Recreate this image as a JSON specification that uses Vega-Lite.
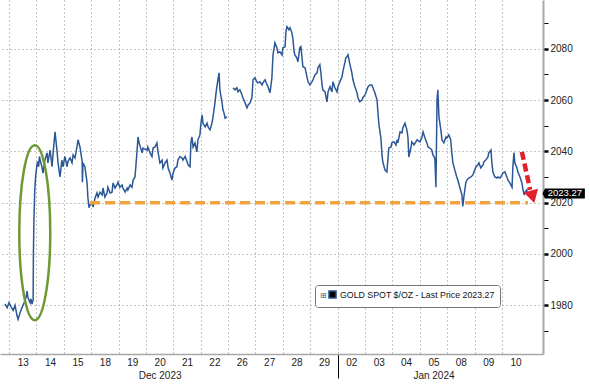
{
  "$schema": "https://vega.github.io/schema/vega-lite/v6.json",
  "width": 543,
  "height": 354,
  "autosize": {"type": "none"},
  "padding": {"left": 0, "top": 0, "right": 47, "bottom": 31},
  "background": "white",
  "config": {"view": {"stroke": null}, "font": "Liberation Sans"},
  "datasets": {
    "price": [
      {"t":-0.15,"v":1980.5,"s":1},{"t":-0.07,"v":1979,"s":1},{"t":0,"v":1981,"s":1},{"t":0.07,"v":1979.5,"s":1},{"t":0.15,"v":1978,"s":1},{"t":0.22,"v":1980,"s":1},{"t":0.29,"v":1976,"s":1},{"t":0.33,"v":1974.5,"s":1},{"t":0.40,"v":1977,"s":1},{"t":0.47,"v":1979,"s":1},{"t":0.55,"v":1981,"s":1},{"t":0.62,"v":1983,"s":1},{"t":0.66,"v":1985.5,"s":1},{"t":0.69,"v":1983,"s":1},{"t":0.77,"v":1981,"s":1},{"t":0.80,"v":1982.5,"s":1},{"t":0.84,"v":1980.5,"s":1},{"t":0.88,"v":1982,"s":1},{"t":0.89,"v":2000,"s":1},{"t":0.91,"v":2014,"s":1},{"t":0.94,"v":2025,"s":1},{"t":0.97,"v":2030,"s":1},{"t":1.00,"v":2033,"s":1},{"t":1.04,"v":2036,"s":1},{"t":1.08,"v":2034,"s":1},{"t":1.11,"v":2038,"s":1},{"t":1.15,"v":2036,"s":1},
      {"t":1.20,"v":2034,"s":1},{"t":1.24,"v":2031.5,"s":1},{"t":1.31,"v":2036.6,"s":1},{"t":1.39,"v":2039.4,"s":1},{"t":1.42,"v":2035.5,"s":1},{"t":1.50,"v":2040.5,"s":1},{"t":1.57,"v":2034,"s":1},{"t":1.61,"v":2039.4,"s":1},{"t":1.68,"v":2047.6,"s":1},{"t":1.75,"v":2040.5,"s":1},{"t":1.79,"v":2035.5,"s":1},{"t":1.86,"v":2030,"s":1},{"t":1.93,"v":2036.6,"s":1},{"t":1.97,"v":2034,"s":1},
      {"t":2.04,"v":2038,"s":1},{"t":2.12,"v":2034,"s":1},{"t":2.15,"v":2036,"s":1},{"t":2.23,"v":2037.4,"s":1},{"t":2.30,"v":2035.5,"s":1},{"t":2.34,"v":2038.6,"s":1},{"t":2.41,"v":2037.4,"s":1},{"t":2.48,"v":2041.7,"s":1},{"t":2.52,"v":2044.5,"s":1},{"t":2.59,"v":2041.7,"s":1},{"t":2.67,"v":2036,"s":1},{"t":2.68,"v":2028,"s":1},{"t":2.70,"v":2035.5,"s":1},{"t":2.77,"v":2034,"s":1},{"t":2.85,"v":2027.7,"s":1},{"t":2.88,"v":2022,"s":1},{"t":2.92,"v":2018,"s":1},{"t":2.99,"v":2020,"s":1},
      {"t":3.03,"v":2019.8,"s":1},{"t":3.07,"v":2018.3,"s":1},{"t":3.14,"v":2021.8,"s":1},{"t":3.21,"v":2023.8,"s":1},{"t":3.25,"v":2022.2,"s":1},{"t":3.32,"v":2024.1,"s":1},{"t":3.40,"v":2023,"s":1},{"t":3.43,"v":2025.7,"s":1},{"t":3.50,"v":2022.2,"s":1},{"t":3.58,"v":2023.8,"s":1},{"t":3.61,"v":2026,"s":1},{"t":3.69,"v":2023.8,"s":1},{"t":3.76,"v":2024.1,"s":1},{"t":3.80,"v":2027.7,"s":1},{"t":3.87,"v":2025.7,"s":1},{"t":3.94,"v":2026.9,"s":1},
      {"t":3.98,"v":2028,"s":1},{"t":4.05,"v":2026,"s":1},{"t":4.13,"v":2026.9,"s":1},{"t":4.16,"v":2025.7,"s":1},{"t":4.24,"v":2024.1,"s":1},{"t":4.31,"v":2025.7,"s":1},{"t":4.34,"v":2024.9,"s":1},{"t":4.42,"v":2026.9,"s":1},{"t":4.49,"v":2026,"s":1},{"t":4.53,"v":2028.8,"s":1},{"t":4.60,"v":2030,"s":1},{"t":4.67,"v":2039.4,"s":1},{"t":4.71,"v":2045.6,"s":1},{"t":4.75,"v":2043.3,"s":1},{"t":4.86,"v":2039.4,"s":1},{"t":4.89,"v":2041.3,"s":1},
      {"t":5.04,"v":2040.5,"s":1},{"t":5.07,"v":2041.7,"s":1},{"t":5.15,"v":2039.4,"s":1},{"t":5.22,"v":2038,"s":1},{"t":5.26,"v":2041.3,"s":1},{"t":5.33,"v":2041.7,"s":1},{"t":5.40,"v":2043.3,"s":1},{"t":5.44,"v":2039.8,"s":1},{"t":5.51,"v":2035.5,"s":1},{"t":5.59,"v":2036.6,"s":1},{"t":5.62,"v":2033.5,"s":1},{"t":5.70,"v":2035.5,"s":1},{"t":5.77,"v":2036.6,"s":1},{"t":5.81,"v":2033.5,"s":1},{"t":5.88,"v":2031.5,"s":1},{"t":5.95,"v":2028.8,"s":1},
      {"t":5.99,"v":2031.5,"s":1},{"t":6.06,"v":2033.5,"s":1},{"t":6.13,"v":2034,"s":1},{"t":6.17,"v":2036.6,"s":1},{"t":6.24,"v":2038,"s":1},{"t":6.32,"v":2037.4,"s":1},{"t":6.35,"v":2036.6,"s":1},{"t":6.43,"v":2038,"s":1},{"t":6.50,"v":2036,"s":1},{"t":6.54,"v":2034.7,"s":1},{"t":6.61,"v":2034,"s":1},{"t":6.64,"v":2043.3,"s":1},{"t":6.68,"v":2045.6,"s":1},{"t":6.72,"v":2041.7,"s":1},{"t":6.79,"v":2043.3,"s":1},{"t":6.86,"v":2039.8,"s":1},{"t":6.90,"v":2044.5,"s":1},{"t":6.97,"v":2046.4,"s":1},
      {"t":7.01,"v":2051,"s":1},{"t":7.05,"v":2054.2,"s":1},{"t":7.08,"v":2051,"s":1},{"t":7.16,"v":2049.5,"s":1},{"t":7.23,"v":2051,"s":1},{"t":7.27,"v":2049.5,"s":1},{"t":7.34,"v":2048.4,"s":1},{"t":7.41,"v":2051,"s":1},{"t":7.45,"v":2053.4,"s":1},{"t":7.52,"v":2058.9,"s":1},{"t":7.56,"v":2062.8,"s":1},{"t":7.59,"v":2065.2,"s":1},{"t":7.67,"v":2070.6,"s":1},{"t":7.70,"v":2064,"s":1},{"t":7.78,"v":2058.9,"s":1},{"t":7.81,"v":2056.2,"s":1},{"t":7.85,"v":2055,"s":1},{"t":7.89,"v":2053,"s":1},{"t":7.96,"v":2053.4,"s":1},
      {"t":8.18,"v":2064.8,"s":2},{"t":8.25,"v":2064,"s":2},{"t":8.32,"v":2064.8,"s":2},{"t":8.36,"v":2063.2,"s":2},{"t":8.43,"v":2064,"s":2},{"t":8.51,"v":2062,"s":2},{"t":8.54,"v":2060.9,"s":2},{"t":8.62,"v":2058.9,"s":2},{"t":8.69,"v":2057,"s":2},{"t":8.73,"v":2058,"s":2},{"t":8.80,"v":2058.9,"s":2},{"t":8.87,"v":2060.9,"s":2},{"t":8.91,"v":2067.9,"s":2},{"t":8.98,"v":2068.7,"s":2},
      {"t":9.05,"v":2067.1,"s":2},{"t":9.09,"v":2066.7,"s":2},{"t":9.16,"v":2067.1,"s":2},{"t":9.24,"v":2065.9,"s":2},{"t":9.27,"v":2066.7,"s":2},{"t":9.35,"v":2067.9,"s":2},{"t":9.42,"v":2066,"s":2},{"t":9.46,"v":2065.2,"s":2},{"t":9.53,"v":2062.8,"s":2},{"t":9.60,"v":2068.7,"s":2},{"t":9.64,"v":2077.6,"s":2},{"t":9.71,"v":2082.3,"s":2},{"t":9.78,"v":2080.4,"s":2},{"t":9.82,"v":2078.4,"s":2},{"t":9.89,"v":2078.8,"s":2},{"t":9.97,"v":2077.6,"s":2},
      {"t":10.00,"v":2080.4,"s":2},{"t":10.08,"v":2080.8,"s":2},{"t":10.11,"v":2086.6,"s":2},{"t":10.15,"v":2088.6,"s":2},{"t":10.22,"v":2087.4,"s":2},{"t":10.26,"v":2088.2,"s":2},{"t":10.33,"v":2086.3,"s":2},{"t":10.37,"v":2083.5,"s":2},{"t":10.41,"v":2078.8,"s":2},{"t":10.44,"v":2077.6,"s":2},{"t":10.51,"v":2076.5,"s":2},{"t":10.55,"v":2074.9,"s":2},{"t":10.62,"v":2080.4,"s":2},{"t":10.66,"v":2080.8,"s":2},{"t":10.70,"v":2076.5,"s":2},{"t":10.73,"v":2073,"s":2},{"t":10.81,"v":2072.6,"s":2},{"t":10.88,"v":2069,"s":2},{"t":10.92,"v":2067.1,"s":2},{"t":10.99,"v":2065.9,"s":2},
      {"t":11.06,"v":2067.1,"s":2},{"t":11.10,"v":2067.9,"s":2},{"t":11.17,"v":2069.8,"s":2},{"t":11.25,"v":2070.6,"s":2},{"t":11.28,"v":2072.6,"s":2},{"t":11.35,"v":2073.8,"s":2},{"t":11.39,"v":2070.6,"s":2},{"t":11.43,"v":2065.9,"s":2},{"t":11.46,"v":2064,"s":2},{"t":11.54,"v":2063.2,"s":2},{"t":11.61,"v":2059.3,"s":2},{"t":11.65,"v":2063.2,"s":2},{"t":11.72,"v":2065.2,"s":2},{"t":11.79,"v":2063.2,"s":2},{"t":11.83,"v":2067.1,"s":2},{"t":11.90,"v":2064.8,"s":2},{"t":11.98,"v":2063.2,"s":2},
      {"t":12.01,"v":2065.2,"s":2},{"t":12.08,"v":2067.1,"s":2},{"t":12.16,"v":2069,"s":2},{"t":12.19,"v":2071,"s":2},{"t":12.27,"v":2074.9,"s":2},{"t":12.30,"v":2076.5,"s":2},{"t":12.34,"v":2076.9,"s":2},{"t":12.38,"v":2077.6,"s":2},{"t":12.45,"v":2073.8,"s":2},{"t":12.52,"v":2070.6,"s":2},{"t":12.56,"v":2067.9,"s":2},{"t":12.63,"v":2065.2,"s":2},{"t":12.71,"v":2062.8,"s":2},{"t":12.74,"v":2060.9,"s":2},{"t":12.81,"v":2059.3,"s":2},{"t":12.89,"v":2060,"s":2},{"t":12.92,"v":2060.9,"s":2},
      {"t":13.00,"v":2062,"s":2},{"t":13.07,"v":2064,"s":2},{"t":13.11,"v":2065.2,"s":2},{"t":13.18,"v":2065.9,"s":2},{"t":13.25,"v":2065.9,"s":2},{"t":13.29,"v":2064.8,"s":2},{"t":13.36,"v":2062.8,"s":2},{"t":13.44,"v":2060,"s":2},{"t":13.47,"v":2055.4,"s":2},{"t":13.51,"v":2050.3,"s":2},{"t":13.58,"v":2045.2,"s":2},{"t":13.62,"v":2038.6,"s":2},{"t":13.65,"v":2035.9,"s":2},{"t":13.73,"v":2032.7,"s":2},{"t":13.80,"v":2032,"s":2},{"t":13.84,"v":2037.4,"s":2},{"t":13.87,"v":2041.3,"s":2},{"t":13.95,"v":2041.7,"s":2},{"t":13.98,"v":2043.3,"s":2},
      {"t":14.06,"v":2043.7,"s":2},{"t":14.13,"v":2042.5,"s":2},{"t":14.17,"v":2044.5,"s":2},{"t":14.20,"v":2043.3,"s":2},{"t":14.28,"v":2047.6,"s":2},{"t":14.35,"v":2047.2,"s":2},{"t":14.38,"v":2049.1,"s":2},{"t":14.46,"v":2051,"s":2},{"t":14.53,"v":2048.4,"s":2},{"t":14.57,"v":2045.2,"s":2},{"t":14.60,"v":2037.8,"s":2},{"t":14.68,"v":2041.7,"s":2},{"t":14.71,"v":2043.7,"s":2},{"t":14.79,"v":2042.5,"s":2},{"t":14.90,"v":2044.5,"s":2},{"t":15.01,"v":2043.7,"s":2},
      {"t":15.08,"v":2045.6,"s":2},{"t":15.12,"v":2047.6,"s":2},{"t":15.19,"v":2045.2,"s":2},{"t":15.26,"v":2043.3,"s":2},{"t":15.30,"v":2041.7,"s":2},{"t":15.37,"v":2041.3,"s":2},{"t":15.44,"v":2040.5,"s":2},{"t":15.48,"v":2038.6,"s":2},{"t":15.55,"v":2037.4,"s":2},{"t":15.59,"v":2026,"s":2},{"t":15.63,"v":2060,"s":2},{"t":15.66,"v":2064,"s":2},{"t":15.70,"v":2053.4,"s":2},{"t":15.77,"v":2048.4,"s":2},{"t":15.81,"v":2044.5,"s":2},{"t":15.88,"v":2043.3,"s":2},{"t":15.96,"v":2045.6,"s":2},{"t":15.99,"v":2045.2,"s":2},
      {"t":16.06,"v":2046.4,"s":2},{"t":16.13,"v":2044.5,"s":2},{"t":16.17,"v":2039.4,"s":2},{"t":16.21,"v":2035.5,"s":2},{"t":16.28,"v":2032.7,"s":2},{"t":16.35,"v":2030,"s":2},{"t":16.39,"v":2028.8,"s":2},{"t":16.46,"v":2026,"s":2},{"t":16.54,"v":2023,"s":2},{"t":16.57,"v":2018.5,"s":2},{"t":16.61,"v":2022.2,"s":2},{"t":16.68,"v":2027.7,"s":2},{"t":16.72,"v":2028.8,"s":2},{"t":16.79,"v":2029.6,"s":2},{"t":16.87,"v":2030,"s":2},{"t":16.94,"v":2030.8,"s":2},{"t":16.98,"v":2032,"s":2},
      {"t":17.05,"v":2033.9,"s":2},{"t":17.12,"v":2034.7,"s":2},{"t":17.16,"v":2035.5,"s":2},{"t":17.23,"v":2033.5,"s":2},{"t":17.31,"v":2034.7,"s":2},{"t":17.34,"v":2035.9,"s":2},{"t":17.41,"v":2036.6,"s":2},{"t":17.49,"v":2037.8,"s":2},{"t":17.52,"v":2039.4,"s":2},{"t":17.60,"v":2040.5,"s":2},{"t":17.63,"v":2035.9,"s":2},{"t":17.67,"v":2032,"s":2},{"t":17.74,"v":2030,"s":2},{"t":17.82,"v":2029.6,"s":2},{"t":17.85,"v":2030,"s":2},{"t":17.93,"v":2029.6,"s":2},{"t":18.00,"v":2030.8,"s":2},
      {"t":18.04,"v":2031.6,"s":2},{"t":18.11,"v":2032,"s":2},{"t":18.18,"v":2030,"s":2},{"t":18.22,"v":2028.8,"s":2},{"t":18.29,"v":2027.7,"s":2},{"t":18.37,"v":2026,"s":2},{"t":18.40,"v":2034,"s":2},{"t":18.44,"v":2039.5,"s":2},{"t":18.47,"v":2035.5,"s":2},{"t":18.55,"v":2033.5,"s":2},{"t":18.58,"v":2032,"s":2},{"t":18.66,"v":2030,"s":2},{"t":18.73,"v":2027.7,"s":2},{"t":18.77,"v":2025,"s":2},{"t":18.81,"v":2023,"s":2},{"t":18.84,"v":2024.1,"s":2},{"t":18.91,"v":2025,"s":2},{"t":18.93,"v":2023.27,"s":2}
    ],
    "level": [{"t": 2.96, "v": 2020}, {"t": 18.95, "v": 2020}],
    "arrow": [{"t": 18.73, "v": 2039.8, "t2": 19.03, "v2": 2025.0}],
    "head": [{"t": 19.12, "v": 2022.3}],
    "ellipse": [{"t": 0.94, "v": 2008.3}],
    "tag": [{"t": 20.3, "v": 2023.6, "label": "2023.27"}]
  },
  "layer": [
    {
      "data": {"name": "price"},
      "mark": {"type": "line", "strokeWidth": 1.5},
      "encoding": {
        "x": {
          "field": "t", "type": "quantitative",
          "scale": {"domain": [-0.33, 19.5], "nice": false, "zero": false},
          "axis": {
            "orient": "bottom", "title": null, "tickCount": 60,
            "values": [0,1,2,3,4,5,6,7,8,9,10,11,12,13,14,15,16,17,18],
            "grid": true, "gridDash": [1, 3], "gridColor": "#8a8a8a",
            "domainColor": "#a8a8a8", "domainWidth": 1.5,
            "ticks": true, "tickColor": "#000", "tickSize": 24,
            "tickOpacity": {"condition": {"test": "datum.value === 12", "value": 1}, "value": 0},
            "labelOffset": 13.7,
            "labelExpr": "[['13'],['14'],['15'],['18'],['19'],['20','Dec 2023'],['21'],['22'],['26'],['27'],['28'],['29'],['02'],['03'],['04'],['05','Jan 2024'],['08'],['09'],['10']][datum.value]",
            "labelFontSize": 10, "labelColor": "#222", "labelPadding": -21, "labelLineHeight": 13,
            "labelOverlap": false, "labelFlush": false, "labelBound": false
          }
        },
        "y": {
          "field": "v", "type": "quantitative",
          "scale": {"domain": [1961, 2099], "nice": false, "zero": false},
          "axis": {
            "orient": "right", "title": null, "format": "d", "tickCount": 60,
            "values": [1970,1980,1990,2000,2010,2020,2030,2040,2050,2060,2070,2080,2090],
            "grid": true, "gridDash": [1, 3], "gridColor": "#8a8a8a",
            "gridOpacity": {"condition": {"test": "datum.value % 20 === 0", "value": 1}, "value": 0},
            "domainColor": "#a8a8a8", "domainWidth": 2,
            "tickColor": "#000", "tickSize": 5,
            "tickWidth": {"condition": {"test": "datum.value % 20 === 0", "value": 2.5}, "value": 1},
            "labelExpr": "datum.value % 20 === 0 ? datum.label : ''",
            "labelOverlap": false, "labelBound": false,
            "labelFontSize": 10, "labelColor": "#222", "labelPadding": 2
          }
        },
        "detail": {"field": "s"},
        "color": {
          "datum": "GOLD SPOT $/OZ - Last Price 2023.27", "type": "nominal",
          "scale": {"range": ["#2b5797"]},
          "legend": {
            "orient": "none", "legendX": 315, "legendY": 285,
            "title": "⊞", "titleOrient": "left", "titleFont": "DejaVu Sans", "titleFontSize": 8,
            "titleFontWeight": "normal", "titleColor": "#555", "titlePadding": 1, "titleBaseline": "middle",
            "symbolType": "square", "symbolSize": 50, "labelFontSize": 8.8, "labelColor": "#111",
            "labelLimit": 400,
            "padding": 5, "strokeColor": "#777", "fillColor": "#ffffff", "cornerRadius": 3,
            "labelOffset": 3,
            "encode": {"symbols": {"update": {"fill": {"value": "#000"}, "stroke": {"value": "#000"}, "shape": {"value": "square"}}}}
          }
        }
      }
    },
    {
      "data": {"name": "level"},
      "mark": {"type": "line", "color": "#f4a23c", "strokeWidth": 3.5, "strokeDash": [10, 5]},
      "encoding": {"x": {"field": "t", "type": "quantitative"}, "y": {"field": "v", "type": "quantitative"}}
    },
    {
      "data": {"name": "arrow"},
      "mark": {"type": "rule", "color": "#e3202a", "strokeWidth": 4.5, "strokeDash": [8, 4]},
      "encoding": {
        "x": {"field": "t", "type": "quantitative"}, "y": {"field": "v", "type": "quantitative"},
        "x2": {"field": "t2"}, "y2": {"field": "v2"}
      }
    },
    {
      "data": {"name": "head"},
      "mark": {"type": "point", "shape": "triangle-down", "filled": true, "color": "#e3202a", "size": 220, "angle": -15, "opacity": 1},
      "encoding": {"x": {"field": "t", "type": "quantitative"}, "y": {"field": "v", "type": "quantitative"}}
    },
    {
      "data": {"name": "ellipse"},
      "mark": {"type": "point", "shape": "M 0 -1 A 0.177 1 0 1 1 0 1 A 0.177 1 0 1 1 0 -1 Z", "filled": false, "stroke": "#6f9a33", "strokeWidth": 2.5, "size": 30625, "opacity": 1},
      "encoding": {"x": {"field": "t", "type": "quantitative"}, "y": {"field": "v", "type": "quantitative"}}
    },
    {
      "data": {"name": "tag"},
      "mark": {"type": "point", "shape": "M -1.12 0 L -1 -0.25 L 1 -0.25 L 1 0.25 L -1 0.25 Z", "filled": true, "color": "#000", "size": 1600, "opacity": 1},
      "encoding": {"x": {"field": "t", "type": "quantitative"}, "y": {"field": "v", "type": "quantitative"}}
    },
    {
      "data": {"name": "tag"},
      "mark": {"type": "text", "color": "#fff", "fontSize": 9.5, "align": "center", "baseline": "middle"},
      "encoding": {"x": {"field": "t", "type": "quantitative"}, "y": {"field": "v", "type": "quantitative"}, "text": {"field": "label"}}
    }
  ]
}
